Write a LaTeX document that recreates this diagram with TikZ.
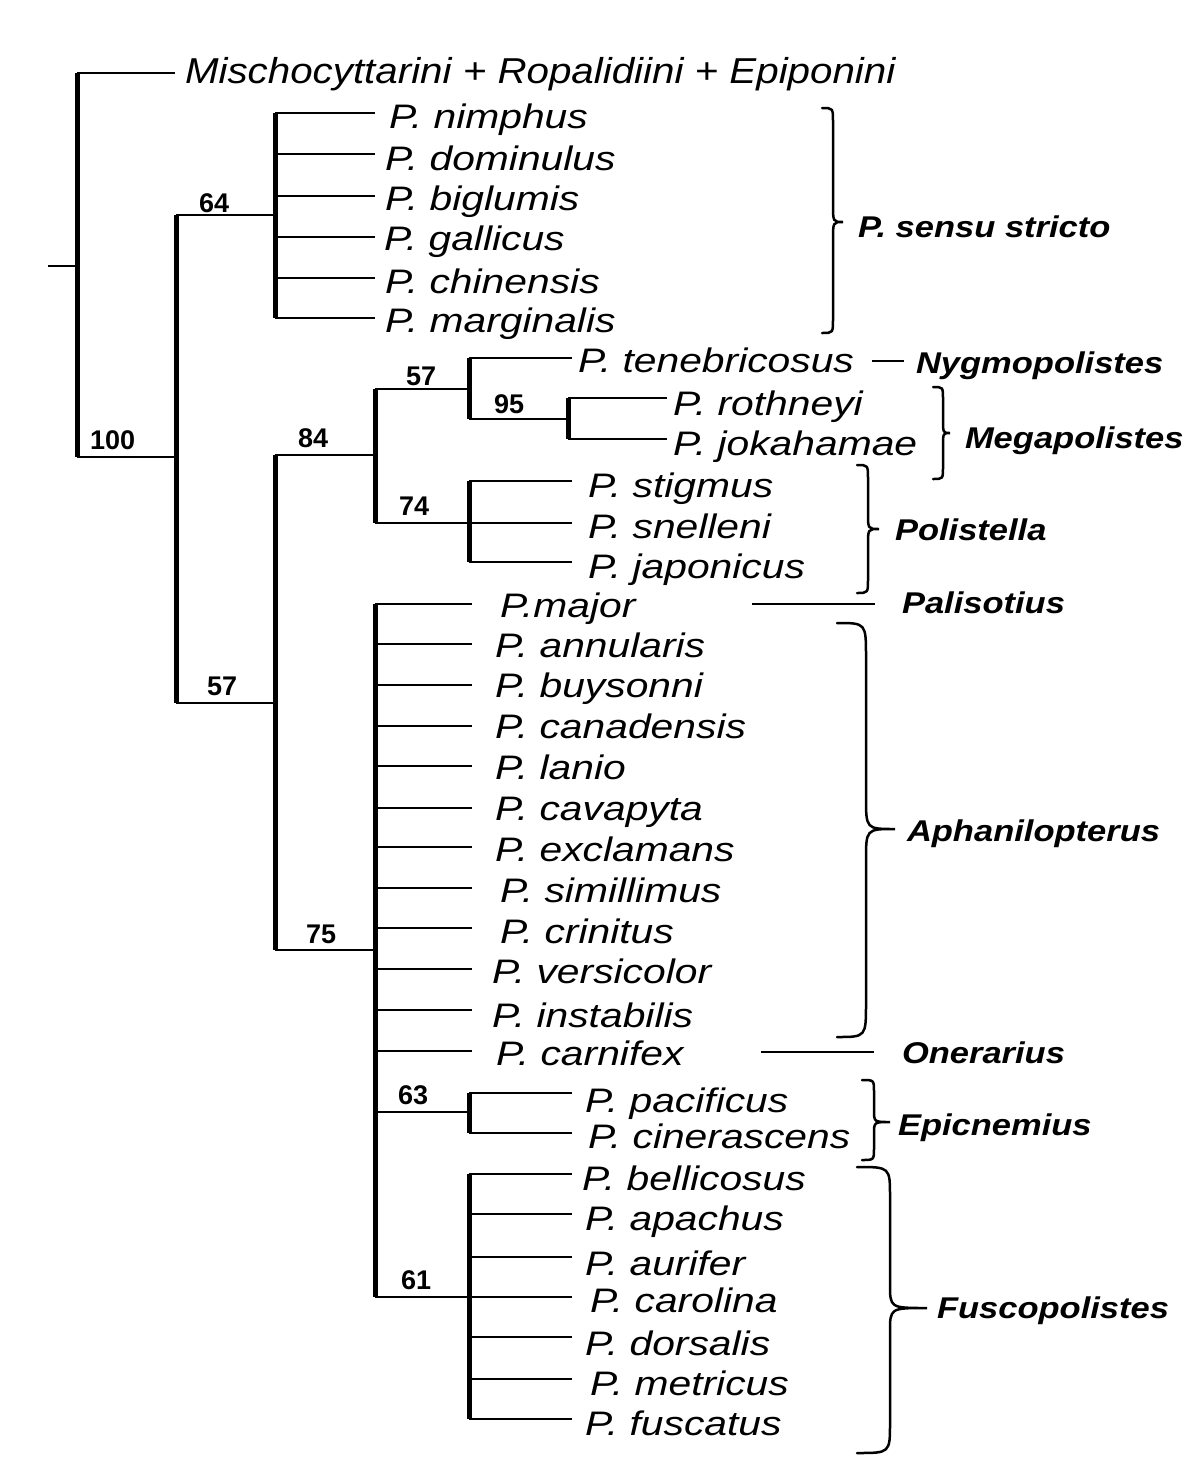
\documentclass[tikz,border=0pt]{standalone}
\usepackage{fontspec}
\setmainfont{Liberation Sans}
\usepackage{graphicx}
\newcommand\spp[1]{\scalebox{1.2}[1]{\fontsize{34}{40}\selectfont\itshape #1}}
\newcommand\grp[1]{\scalebox{1.15}[1]{\fontsize{30}{36}\selectfont\bfseries\itshape #1}}
\newcommand\bsv[1]{{\fontsize{27}{32}\selectfont\bfseries #1}}
\tikzset{
  vert/.style={line width=5pt},
  hbranch/.style={line width=1.6pt},
  leafline/.style={line width=2pt},
  bracestyle/.style={line width=2.5pt, line cap=round},
  txt/.style={anchor=base west, inner sep=0pt, outer sep=0pt},
}
% leaf: name, parent, tip x, y, text x, baseline, text
\newcommand\leaf[7]{%
  \coordinate (#1-t) at (#3,#4);
  \node[txt] (#1) at (#5,#6) {\spp{#7}};
  \draw[leafline] (#2 |- #1-t) -- (#1-t);
}
% brace: x0, xv, xt, ytop, ytip, ybot, r1, r2
\newcommand\cbrace[8]{%
  \draw[bracestyle] (#1,#4) .. controls (#2,#4) .. (#2,#4+#7) -- (#2,#5-#8)
    .. controls (#2,#5) .. (#3,#5) .. controls (#2,#5) .. (#2,#5+#8)
    -- (#2,#6-#7) .. controls (#2,#6) .. (#1,#6);
}
\begin{document}
\begin{tikzpicture}[x=1pt,y=-1pt]
\useasboundingbox[fill=white] (0,0) rectangle (1199,1473);

% internal nodes
\coordinate (root) at (77,266);
\coordinate (rootstub) at (48,266);
\coordinate (n100) at (176,457);
\coordinate (n64) at (275,215);
\coordinate (n57a) at (275,703);
\coordinate (n84) at (375,455);
\coordinate (n57b) at (469,389);
\coordinate (n95) at (568,419);
\coordinate (n74) at (469,523);
\coordinate (n75) at (375,950);
\coordinate (n63) at (469,1112);
\coordinate (n61) at (469,1297);

% root
\draw[hbranch] (rootstub) -- (root);
\coordinate (mis-t) at (175,73);
\node[txt] (mis) at (185,83) {\scalebox{1.12}[1]{\fontsize{36}{42}\selectfont\itshape Mischocyttarini + Ropalidiini + Epiponini}};
\draw[vert] (root |- mis-t) -- (root |- n100);
\draw[leafline] (root |- mis-t) -- (mis-t);
\draw[hbranch] (root |- n100) -- (n100);
\draw[vert] (n100 |- n64) -- (n100 |- n57a);
\draw[hbranch] (n100 |- n64) -- (n64);
\draw[hbranch] (n100 |- n57a) -- (n57a);

% P. sensu stricto
\leaf{nimphus}{n64}{375}{113}{389}{128}{P. nimphus}
\leaf{dominulus}{n64}{375}{154}{385}{170}{P. dominulus}
\leaf{biglumis}{n64}{375}{196}{385}{210}{P. biglumis}
\leaf{gallicus}{n64}{375}{237}{384}{250}{P. gallicus}
\leaf{chinensis}{n64}{375}{278}{385}{293}{P. chinensis}
\leaf{marginalis}{n64}{375}{318}{385}{332}{P. marginalis}
\draw[vert] (n64 |- nimphus-t) -- (n64 |- marginalis-t);

% 84 clade
\draw[vert] (n57a |- n84) -- (n57a |- n75);
\draw[hbranch] (n57a |- n84) -- (n84);
\draw[vert] (n84 |- n57b) -- (n84 |- n74);
\draw[hbranch] (n84 |- n57b) -- (n57b);
\draw[hbranch] (n84 |- n74) -- (n74);
\leaf{tenebricosus}{n57b}{572}{358}{578}{372}{P. tenebricosus}
\draw[vert] (n57b |- tenebricosus-t) -- (n57b |- n95);
\draw[hbranch] (n57b |- n95) -- (n95);
\leaf{rothneyi}{n95}{667}{398}{673}{415}{P. rothneyi}
\leaf{jokahamae}{n95}{667}{439}{673}{455}{P. jokahamae}
\draw[vert] (n95 |- rothneyi-t) -- (n95 |- jokahamae-t);
\leaf{stigmus}{n74}{572}{481}{588}{497}{P. stigmus}
\leaf{snelleni}{n74}{572}{523}{588}{538}{P. snelleni}
\leaf{japonicus}{n74}{572}{562}{588}{578}{P. japonicus}
\draw[vert] (n74 |- stigmus-t) -- (n74 |- japonicus-t);

% 75 clade
\draw[hbranch] (n57a |- n75) -- (n75);
\leaf{major}{n75}{472}{604}{500}{617}{P.major}
\leaf{annularis}{n75}{472}{644}{495}{657}{P. annularis}
\leaf{buysonni}{n75}{472}{685}{495}{697}{P. buysonni}
\leaf{canadensis}{n75}{472}{726}{495}{738}{P. canadensis}
\leaf{lanio}{n75}{472}{766}{495}{779}{P. lanio}
\leaf{cavapyta}{n75}{472}{808}{495}{820}{P. cavapyta}
\leaf{exclamans}{n75}{472}{847}{495}{861}{P. exclamans}
\leaf{simillimus}{n75}{472}{888}{500}{902}{P. simillimus}
\leaf{crinitus}{n75}{472}{928}{500}{943}{P. crinitus}
\leaf{versicolor}{n75}{472}{969}{492}{983}{P. versicolor}
\leaf{instabilis}{n75}{472}{1010}{492}{1027}{P. instabilis}
\leaf{carnifex}{n75}{472}{1051}{496}{1065}{P. carnifex}
\draw[vert] (n75 |- major-t) -- (n75 |- n61);
\draw[hbranch] (n75 |- n63) -- (n63);
\draw[hbranch] (n75 |- n61) -- (n61);
\leaf{pacificus}{n63}{572}{1093}{585}{1112}{P. pacificus}
\leaf{cinerascens}{n63}{572}{1133}{588}{1148}{P. cinerascens}
\draw[vert] (n63 |- pacificus-t) -- (n63 |- cinerascens-t);
\leaf{bellicosus}{n61}{572}{1174}{582}{1190}{P. bellicosus}
\leaf{apachus}{n61}{572}{1214}{585}{1230}{P. apachus}
\leaf{aurifer}{n61}{572}{1257}{585}{1275}{P. aurifer}
\leaf{carolina}{n61}{572}{1297}{590}{1312}{P. carolina}
\leaf{dorsalis}{n61}{572}{1337}{585}{1355}{P. dorsalis}
\leaf{metricus}{n61}{572}{1379}{590}{1395}{P. metricus}
\leaf{fuscatus}{n61}{572}{1419}{585}{1435}{P. fuscatus}
\draw[vert] (n61 |- bellicosus-t) -- (n61 |- fuscatus-t);

% support values
\node[txt] (b100) at (90,449) {\bsv{100}};
\node[txt] (b64) at (199,212) {\bsv{64}};
\node[txt] (b84) at (298,447) {\bsv{84}};
\node[txt] (b57a) at (207,695) {\bsv{57}};
\node[txt] (b75) at (306,943) {\bsv{75}};
\node[txt] (b57b) at (406,385) {\bsv{57}};
\node[txt] (b95) at (494,413) {\bsv{95}};
\node[txt] (b74) at (399,515) {\bsv{74}};
\node[txt] (b63) at (398,1104) {\bsv{63}};
\node[txt] (b61) at (401,1289) {\bsv{61}};

% group labels
\cbrace{822}{833}{843}{108}{222}{333}{14}{18}
\node[txt] (gss) at (858,237) {\grp{P. sensu stricto}};
\coordinate (nyg-a) at (872,361);
\coordinate (nyg-b) at (904,361);
\draw[leafline] (nyg-a) -- (nyg-b);
\node[txt] (gnyg) at (916,373) {\grp{Nygmopolistes}};
\cbrace{933}{943}{950}{387}{433}{479}{12}{14}
\node[txt] (gmeg) at (965,448) {\grp{Megapolistes}};
\cbrace{857}{868}{879}{465}{529}{593}{14}{16}
\node[txt] (gpol) at (895,540) {\grp{Polistella}};
\coordinate (pal-a) at (752,604);
\coordinate (pal-b) at (875,604);
\draw[leafline] (pal-a) -- (pal-b);
\node[txt] (gpal) at (902,613) {\grp{Palisotius}};
\cbrace{837}{866}{895}{623}{829}{1037}{34}{32}
\node[txt] (gaph) at (907,841) {\grp{Aphanilopterus}};
\coordinate (one-a) at (761,1052);
\coordinate (one-b) at (874,1052);
\draw[leafline] (one-a) -- (one-b);
\node[txt] (gone) at (902,1063) {\grp{Onerarius}};
\cbrace{862}{874}{890}{1080}{1122}{1160}{12}{12}
\node[txt] (gepi) at (898,1135) {\grp{Epicnemius}};
\cbrace{857}{890}{927}{1167}{1308}{1453}{30}{24}
\node[txt] (gfus) at (937,1318) {\grp{Fuscopolistes}};
\end{tikzpicture}
\end{document}
